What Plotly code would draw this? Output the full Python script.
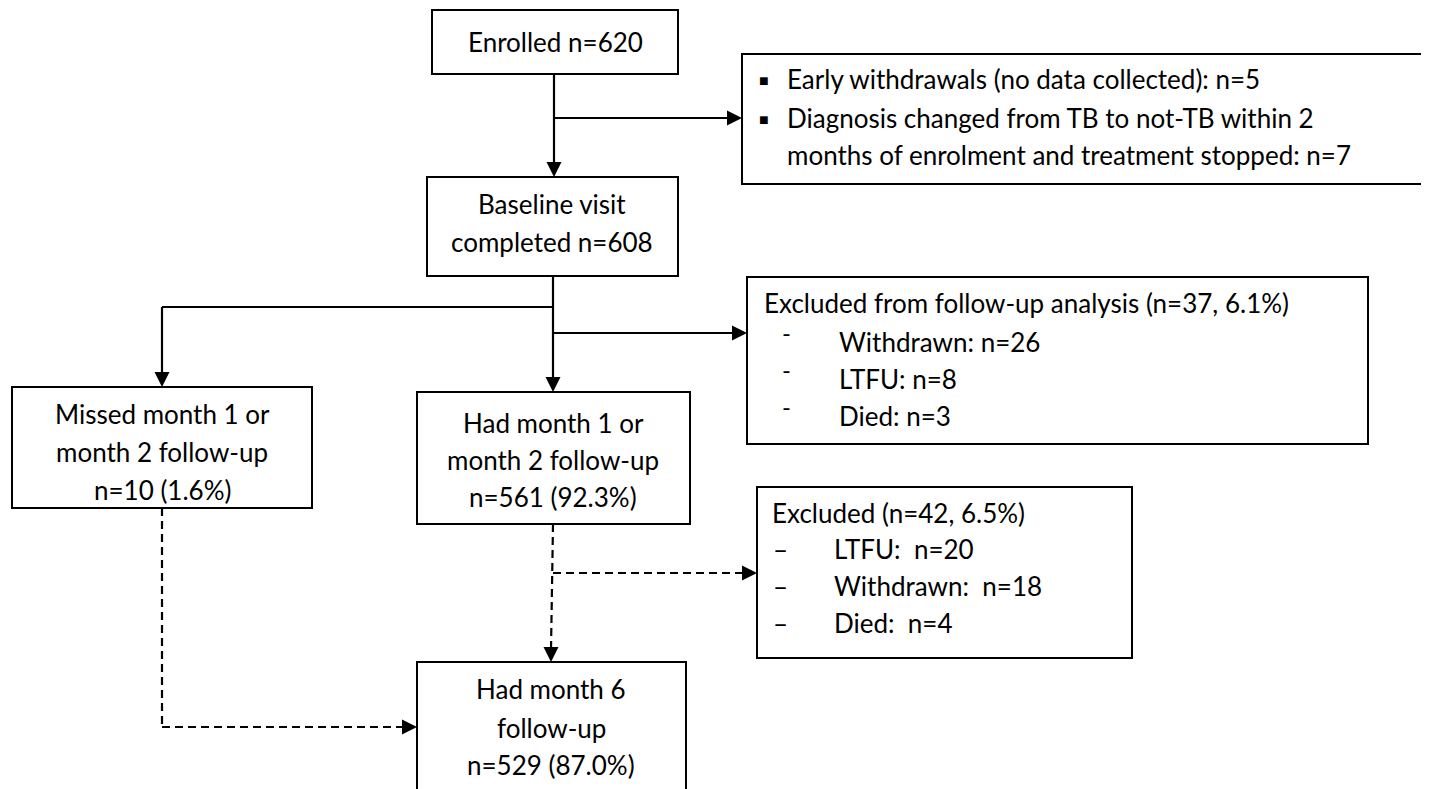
import plotly.graph_objects as go

# study flow counts
enrolled_n = 620
baseline_n = 608
early_withdrawal_n = 5
dx_changed_n = 7

fu_excl_labels = ["Withdrawn", "LTFU", "Died"]
fu_excl_counts = [26, 8, 3]
fu_excl_pct = 6.1

m6_excl_labels = ["LTFU", "Withdrawn", "Died"]
m6_excl_counts = [20, 18, 4]
m6_excl_pct = 6.5

missed_n, missed_pct = 10, 1.6
had12_n, had12_pct = 561, 92.3
had6_n, had6_pct = 529, 87.0

# layout of the boxes in page pixels (x0, y0, x1, y1)
boxes = {
    "enrolled": (432, 10, 678, 74),
    "excl1": (742, 54, 1432, 184),
    "baseline": (427, 177, 678, 276),
    "excl2": (747, 277, 1368, 444),
    "missed": (12, 387, 312, 508),
    "had12": (417, 392, 690, 524),
    "excl3": (757, 487, 1132, 658),
    "had6": (417, 662, 686, 810),
}

FONT = "Lato"
FS = 26
W, H = 1429, 789
PAD = 8  # page body margin

fig = go.Figure()
shapes = []
annotations = []

for x0, y0, x1, y1 in boxes.values():
    shapes.append(dict(type="rect", x0=x0, y0=y0, x1=x1, y1=y1,
                       line=dict(color="black", width=2), fillcolor="white", layer="below"))


def seg(pts, dash="solid"):
    for (xa, ya), (xb, yb) in zip(pts[:-1], pts[1:]):
        shapes.append(dict(type="line", x0=xa, y0=ya, x1=xb, y1=yb,
                           line=dict(color="black", width=2.2, dash=dash)))


def head(x, y, dx, dy):
    # arrowhead pointing at (x, y), coming from direction (dx, dy)
    annotations.append(dict(x=x, y=y, ax=x - dx * 14, ay=y - dy * 14, xref="x", yref="y",
                            axref="x", ayref="y", showarrow=True, arrowhead=2, arrowsize=1.5,
                            arrowwidth=2, arrowcolor="black", text="", standoff=0))


def line_text(x, y, s, anchor="center", size=FS):
    annotations.append(dict(x=x, y=y, xref="x", yref="y", text=s, showarrow=False,
                            xanchor=anchor, yanchor="middle",
                            font=dict(family=FONT, size=size, color="black")))


DASH = "8px,5px"

# solid connectors
seg([(554, 74), (554, 170)])
head(554, 177, 0, 1)
seg([(554, 118), (735, 118)])
head(742, 118, 1, 0)
seg([(553, 276), (553, 385)])
head(553, 392, 0, 1)
seg([(553, 307), (162, 307), (162, 380)])
head(162, 387, 0, 1)
seg([(553, 333), (740, 333)])
head(747, 333, 1, 0)

# dashed connectors
seg([(553, 524), (551, 650)], dash=DASH)
head(551, 662, 0, 1)
seg([(553, 573), (745, 573)], dash=DASH)
head(757, 573, 1, 0)
seg([(162, 508), (162, 727), (405, 727)], dash=DASH)
head(417, 727, 1, 0)

# box texts
line_text(555, 42, f"Enrolled n={enrolled_n}")
line_text(552, 204, "Baseline visit")
line_text(552, 242, f"completed n={baseline_n}")

line_text(757, 79, "■", "left", size=16)
line_text(757, 118, "■", "left", size=16)
line_text(785, 79, f"Early withdrawals (no data collected): n={early_withdrawal_n}", "left")
line_text(785, 118, "Diagnosis changed from TB to not-TB within 2", "left")
line_text(785, 155, f"months of enrolment and treatment stopped: n={dx_changed_n}", "left")

line_text(762, 303, f"Excluded from follow-up analysis (n={sum(fu_excl_counts)}, {fu_excl_pct}%)", "left")
for i, (lab, n) in enumerate(zip(fu_excl_labels, fu_excl_counts)):
    yy = 342 + i * 37
    line_text(780, yy - 10, "-", "left", size=24)
    line_text(837, yy, f"{lab}: n={n}", "left")

line_text(162, 414, "Missed month 1 or")
line_text(162, 452, "month 2 follow-up")
line_text(162, 490, f"n={missed_n} ({missed_pct}%)")

line_text(553, 423, "Had month 1 or")
line_text(553, 460, "month 2 follow-up")
line_text(553, 497, f"n={had12_n} ({had12_pct}%)")

line_text(770, 513, f"Excluded (n={sum(m6_excl_counts)}, {m6_excl_pct}%)", "left")
for i, (lab, n) in enumerate(zip(m6_excl_labels, m6_excl_counts)):
    yy = 549 + i * 37
    line_text(771, yy, "–", "left")
    line_text(832, yy, f"{lab}:  n={n}", "left")

line_text(551, 689, "Had month 6")
line_text(551, 728, "follow-up")
line_text(551, 765, f"n={had6_n} ({had6_pct}%)")

fig.update_layout(
    width=W - PAD, height=H - PAD,
    margin=dict(l=0, r=0, t=0, b=0),
    paper_bgcolor="white", plot_bgcolor="white",
    xaxis=dict(range=[PAD, W], visible=False, fixedrange=True),
    yaxis=dict(range=[H, PAD], visible=False, fixedrange=True),
    shapes=shapes, annotations=annotations, showlegend=False,
)

fig.write_html("out.html")
